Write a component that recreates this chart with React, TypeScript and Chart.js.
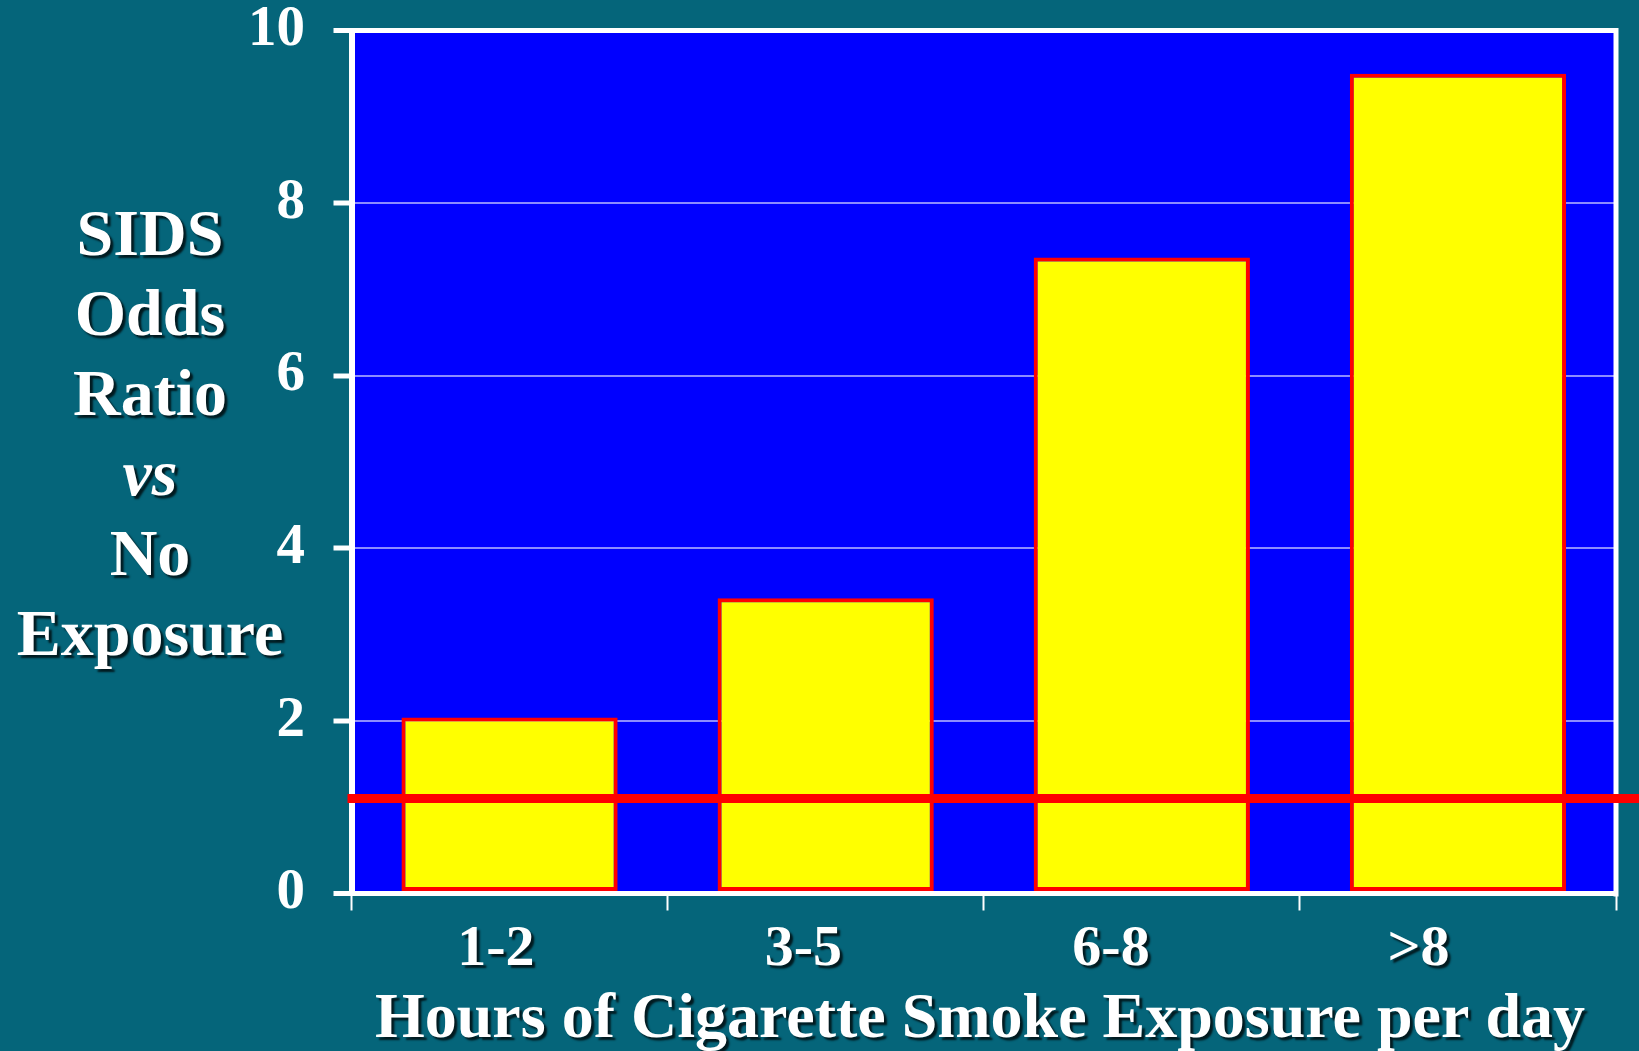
import { useEffect, useRef } from "react";
import { Chart, registerables } from "chart.js";

Chart.register(...registerables);

// Odds ratio of SIDS by daily hours of cigarette smoke exposure
const categories = ["1-2", "3-5", "6-8", ">8"];
const oddsRatios = [2.04, 3.42, 7.37, 9.5];
const referenceRatio = 1.1;
const yTicks = [0, 2, 4, 6, 8, 10];
const yTitleLines = ["SIDS", "Odds", "Ratio", "vs", "No", "Exposure"];
const xTitle = "Hours of Cigarette Smoke Exposure per day";

const TEAL = "#05657a";
const PLOT_BLUE = "#0000ff";
const GRID_BLUE = "#8c8cff";
const BAR_YELLOW = "#ffff00";
const RED = "#ff0000";
const WHITE = "#ffffff";
const SERIF = "'Liberation Serif', 'Times New Roman', Times, serif";

const W = 1639;
const H = 1051;

function withShadow(ctx: CanvasRenderingContext2D, draw: () => void) {
  ctx.save();
  ctx.shadowColor = "rgba(0, 0, 0, 0.75)";
  ctx.shadowOffsetX = 3;
  ctx.shadowOffsetY = 3;
  ctx.shadowBlur = 2;
  draw();
  ctx.restore();
}

const slideDecor = {
  id: "slideDecor",
  beforeDraw(chart: any) {
    const { ctx, chartArea: a } = chart;
    ctx.save();
    ctx.fillStyle = TEAL;
    ctx.fillRect(0, 0, chart.width, chart.height);
    ctx.fillStyle = PLOT_BLUE;
    ctx.fillRect(a.left, a.top, a.right - a.left, a.bottom - a.top);
    ctx.restore();
  },
  afterDatasetsDraw(chart: any) {
    const { ctx, chartArea: a, scales } = chart;
    ctx.save();
    // right edge of the plot frame
    ctx.strokeStyle = WHITE;
    ctx.lineWidth = 5;
    ctx.beginPath();
    ctx.moveTo(a.right, a.top - 2.5);
    ctx.lineTo(a.right, a.bottom + 3);
    ctx.stroke();
    // baseline odds ratio line, running out to the edge of the slide
    const y = scales.y.getPixelForValue(referenceRatio);
    ctx.strokeStyle = RED;
    ctx.lineWidth = 9;
    ctx.beginPath();
    ctx.moveTo(a.left - 4, y);
    ctx.lineTo(chart.width, y);
    ctx.stroke();
    ctx.restore();
  },
  afterDraw(chart: any) {
    const { ctx, scales } = chart;
    const x = scales.x;
    ctx.save();
    ctx.fillStyle = WHITE;
    ctx.textAlign = "center";
    ctx.textBaseline = "alphabetic";

    // category labels, set on a slightly tighter spacing than the columns
    ctx.font = `bold 58px ${SERIF}`;
    categories.forEach((label, i) => {
      const cx = x.getPixelForValue(i) * 0.973;
      withShadow(ctx, () => ctx.fillText(label, cx, 965));
    });

    // x axis title
    ctx.font = `bold 64px ${SERIF}`;
    withShadow(ctx, () => ctx.fillText(xTitle, 980, 1037));

    // stacked y axis title
    yTitleLines.forEach((line, i) => {
      ctx.font = line === "vs" ? `italic bold 66px ${SERIF}` : `bold 66px ${SERIF}`;
      withShadow(ctx, () => ctx.fillText(line, 150, 255 + i * 80));
    });
    ctx.restore();
  },
};

export default function App() {
  const canvasRef = useRef<HTMLCanvasElement | null>(null);

  useEffect(() => {
    document.body.style.margin = "0";
    document.body.style.background = TEAL;
    const canvas = canvasRef.current;
    if (!canvas) return;

    const chart = new Chart(canvas, {
      type: "bar",
      data: {
        labels: categories,
        datasets: [
          {
            data: oddsRatios,
            backgroundColor: BAR_YELLOW,
            borderColor: RED,
            borderWidth: 4,
            borderSkipped: false,
            categoryPercentage: 1,
            barPercentage: 0.684,
          },
        ],
      },
      options: {
        responsive: false,
        animation: false,
        devicePixelRatio: 1,
        layout: { padding: { left: 0, top: 30.5, right: 23, bottom: 0 } },
        plugins: {
          legend: { display: false },
          tooltip: { enabled: false },
          title: { display: false },
        },
        scales: {
          x: {
            offset: true,
            ticks: { display: false },
            grid: {
              offset: true,
              drawOnChartArea: false,
              drawTicks: true,
              tickLength: 17,
              tickWidth: 2,
              tickColor: WHITE,
            },
            border: { display: true, color: WHITE, width: 5 },
            afterFit: (scale: any) => {
              scale.height = 157.5;
              scale.paddingLeft = 0;
              scale.paddingRight = 0;
            },
          },
          y: {
            min: yTicks[0],
            max: yTicks[yTicks.length - 1],
            ticks: {
              stepSize: yTicks[1] - yTicks[0],
              color: WHITE,
              padding: 28.5,
              font: { family: SERIF, size: 57, weight: "bold" },
            },
            grid: {
              color: (c: any) =>
                c.tick && (c.tick.value === yTicks[0] || c.tick.value === yTicks[yTicks.length - 1])
                  ? WHITE
                  : GRID_BLUE,
              lineWidth: (c: any) =>
                c.tick && (c.tick.value === yTicks[0] || c.tick.value === yTicks[yTicks.length - 1])
                  ? 5
                  : 2,
              drawTicks: true,
              tickLength: 18,
              tickWidth: 5,
              tickColor: WHITE,
            },
            border: { display: true, color: WHITE, width: 6 },
            afterFit: (scale: any) => {
              scale.width = 351.5;
              scale.paddingTop = 0;
              scale.paddingBottom = 0;
            },
          },
        },
      },
      plugins: [slideDecor],
    } as any);

    return () => chart.destroy();
  }, []);

  return (
    <div style={{ width: W, height: H, background: TEAL }}>
      <canvas ref={canvasRef} width={W} height={H} style={{ display: "block" }} />
    </div>
  );
}
